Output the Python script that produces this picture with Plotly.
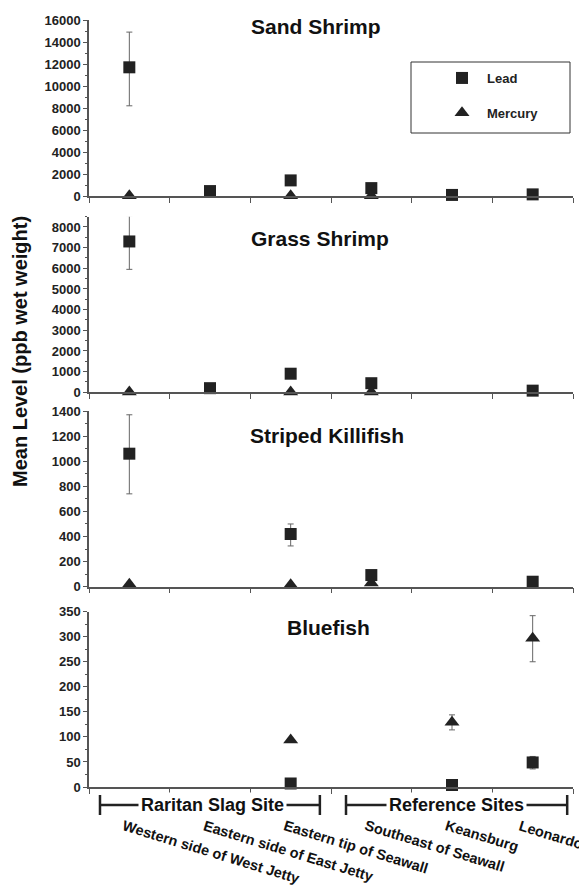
import plotly.graph_objects as go
from plotly.subplots import make_subplots

sites = ["Western side of West Jetty", "Eastern side of East Jetty", "Eastern tip of Seawall",
         "Southeast of Seawall", "Keansburg", "Leonardo"]

panel_titles = ["Sand Shrimp", "Grass Shrimp", "Striped Killifish", "Bluefish"]

sand_lead = [11700, 450, 1420, 720, 100, 150]
sand_lead_up = [3200, 0, 0, 0, 0, 0]
sand_lead_down = [3500, 0, 0, 0, 0, 0]
sand_merc = [30, None, 30, 30, None, None]
sand_merc_up = [0, 0, 0, 0, 0, 0]
sand_merc_down = [0, 0, 0, 0, 0, 0]

grass_lead = [7300, 200, 900, 440, None, 80]
grass_lead_up = [1250, 0, 0, 0, 0, 0]
grass_lead_down = [1350, 0, 0, 0, 0, 0]
grass_merc = [20, None, 20, 20, None, None]
grass_merc_up = [0, 0, 0, 0, 0, 0]
grass_merc_down = [0, 0, 0, 0, 0, 0]

killi_lead = [1060, None, 420, 93, None, 40]
killi_lead_up = [310, 0, 80, 0, 0, 0]
killi_lead_down = [320, 0, 95, 0, 0, 0]
killi_merc = [20, None, 15, 30, None, None]
killi_merc_up = [0, 0, 0, 0, 0, 0]
killi_merc_down = [0, 0, 0, 0, 0, 0]

blue_lead = [None, None, 7, None, 4, 49]
blue_lead_up = [0, 0, 0, 0, 0, 12]
blue_lead_down = [0, 0, 0, 0, 0, 13]
blue_merc = [None, None, 94, None, 129, 297]
blue_merc_up = [0, 0, 0, 0, 15, 45]
blue_merc_down = [0, 0, 0, 0, 15, 47]

y_max = [16000, 8500, 1400, 350]
y_dtick = [2000, 1000, 200, 50]

groups = ["Raritan Slag Site", "Reference Sites"]

panels = [
    (sand_lead, sand_lead_up, sand_lead_down, sand_merc, sand_merc_up, sand_merc_down),
    (grass_lead, grass_lead_up, grass_lead_down, grass_merc, grass_merc_up, grass_merc_down),
    (killi_lead, killi_lead_up, killi_lead_down, killi_merc, killi_merc_up, killi_merc_down),
    (blue_lead, blue_lead_up, blue_lead_down, blue_merc, blue_merc_up, blue_merc_down),
]

FONT = "Liberation Sans, Arial, sans-serif"
INK = "#222222"
AXC = "#555555"

fig = make_subplots(rows=4, cols=1)

for i, (pb, pbu, pbd, hg, hgu, hgd) in enumerate(panels):
    r = i + 1
    fig.add_trace(go.Scatter(
        x=sites, y=pb, mode="markers", name="Lead",
        marker=dict(symbol="square", size=12, color=INK),
        error_y=dict(type="data", array=pbu, arrayminus=pbd, symmetric=False,
                     color="#666666", thickness=1, width=3),
        cliponaxis=False, showlegend=(i == 0), legendgroup="lead"), row=r, col=1)
    fig.add_trace(go.Scatter(
        x=sites, y=hg, mode="markers", name="Mercury",
        marker=dict(symbol="triangle-up", size=13, color=INK),
        error_y=dict(type="data", array=hgu, arrayminus=hgd, symmetric=False,
                     color="#666666", thickness=1, width=3),
        cliponaxis=False, showlegend=(i == 0), legendgroup="mercury"), row=r, col=1)

# plot area (screen px): left 89, right 573; top 20, bottom 787 (page body adds 8px offset)
domains = [(0.7705, 1.0), (0.5146, 0.7436), (0.2611, 0.4902), (0.0, 0.2286)]

for i in range(4):
    r = i + 1
    fig.update_xaxes(
        row=r, col=1, type="category", categoryorder="array", categoryarray=sites,
        range=[-0.5, 5.5], showline=True, linecolor=AXC, linewidth=1.5,
        ticks="outside", tickson="boundaries", ticklen=5, tickcolor=AXC, tickwidth=1,
        showgrid=False, zeroline=False, showticklabels=False, automargin=False,
    )
    fig.update_yaxes(
        row=r, col=1, domain=list(domains[i]), range=[0, y_max[i]], dtick=y_dtick[i],
        tickformat="d", automargin=False,
        showline=True, linecolor=AXC, linewidth=1.5, ticks="outside", ticklen=4,
        tickcolor=AXC, showgrid=False, zeroline=False,
        tickfont=dict(family=FONT, size=13, color=INK, weight="bold"),
        minor=dict(ticks="outside", ticklen=2, dtick=y_dtick[i] / 2, tickcolor=AXC, showgrid=False),
    )

annotations = []
title_pos = [(0.469, 0.9909), (0.477, 0.7145), (0.492, 0.4589), (0.494, 0.2086)]
for t, (tx, ty) in zip(panel_titles, title_pos):
    annotations.append(dict(text=t, x=tx, y=ty, xref="paper", yref="paper",
                            xanchor="center", yanchor="middle", showarrow=False,
                            font=dict(family=FONT, size=21, color="#111", weight="bold")))

annotations.append(dict(text="Mean Level (ppb wet weight)", x=-0.1426, y=0.5684,
                        xref="paper", yref="paper", textangle=-90, showarrow=False,
                        xanchor="center", yanchor="middle",
                        font=dict(family=FONT, size=20, color="#111", weight="bold")))

# rotated site labels under the bottom panel
for k, s in enumerate(sites):
    annotations.append(dict(text=s, x=s, y=(787 - 815) / 767, xref="x4", yref="paper",
                            xanchor="left", yanchor="top", textangle=17, showarrow=False,
                            xshift=(-18 if k == len(sites) - 1 else -11),
                            font=dict(family=FONT, size=14.5, color="#111", weight="bold")))

shapes = []
bracket_y = -0.0235
brackets = [(0.0227, 0.477, 0.256), (0.531, 0.988, 0.760)]
for g, (x0, x1, xc) in zip(groups, brackets):
    shapes.append(dict(type="line", xref="paper", yref="paper", x0=x0, x1=x1,
                       y0=bracket_y, y1=bracket_y, line=dict(color=INK, width=2.5)))
    for xe in (x0, x1):
        shapes.append(dict(type="line", xref="paper", yref="paper", x0=xe, x1=xe,
                           y0=-0.0104, y1=-0.0365, line=dict(color=INK, width=2.5)))
    annotations.append(dict(text=g, x=xc, y=bracket_y, xref="paper", yref="paper",
                            xanchor="center", yanchor="middle", showarrow=False,
                            bgcolor="white", borderpad=2,
                            font=dict(family=FONT, size=18, color="#111", weight="bold")))

# legend frame
shapes.append(dict(type="rect", xref="paper", yref="paper",
                   x0=(411 - 89) / 484, x1=(570 - 89) / 484,
                   y0=(787 - 133) / 767, y1=(787 - 62) / 767,
                   line=dict(color="#333", width=1), fillcolor="rgba(0,0,0,0)"))

fig.update_layout(
    width=579, height=882, margin=dict(l=81, r=14, t=12, b=103, autoexpand=False),
    plot_bgcolor="white", paper_bgcolor="white",
    annotations=annotations, shapes=shapes,
    legend=dict(x=(437 - 89) / 484, y=(787 - 63) / 767, xanchor="left", yanchor="top",
                bgcolor="rgba(0,0,0,0)", borderwidth=0, traceorder="grouped",
                tracegroupgap=15, itemwidth=40,
                font=dict(family=FONT, size=13, color=INK, weight="bold")),
    font=dict(family=FONT, color=INK),
)

fig.write_html("out.html")
